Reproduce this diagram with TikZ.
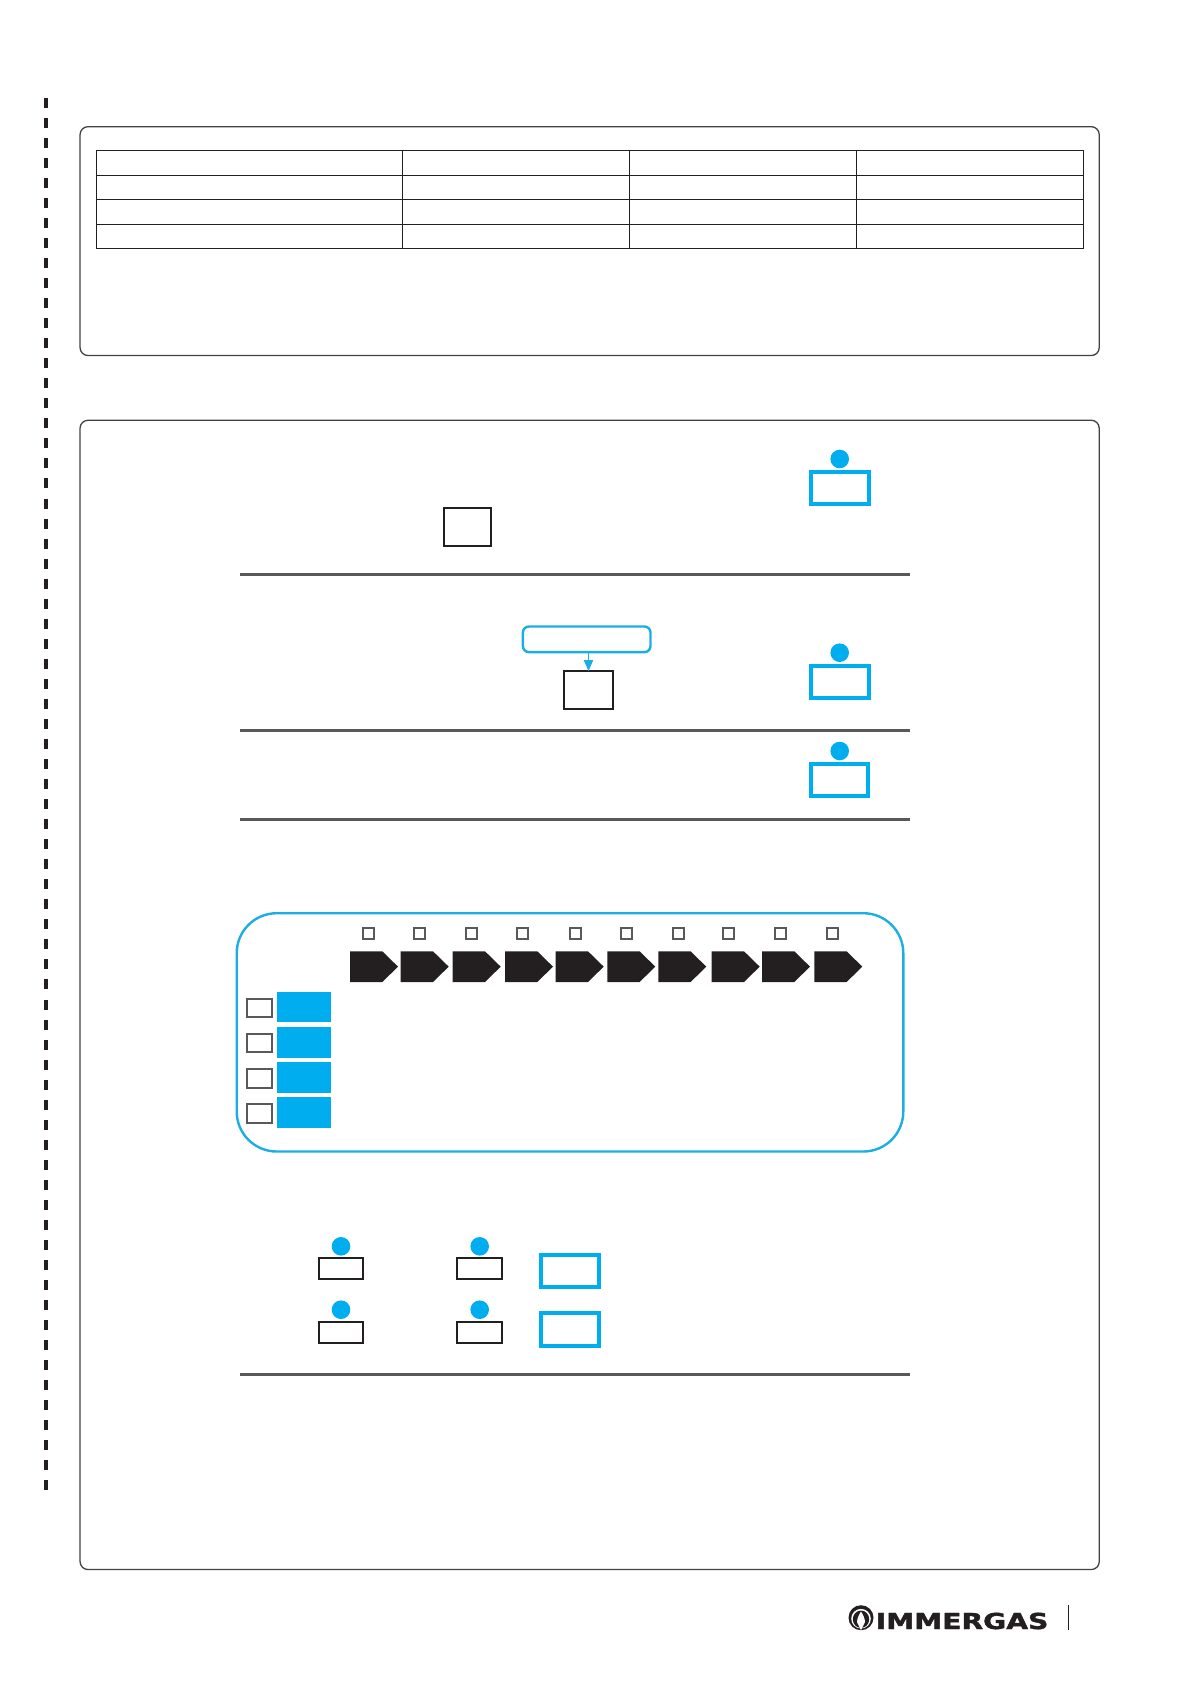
\documentclass[tikz,border=0pt]{standalone}
\usepackage{fontspec}
\setmainfont{DejaVu Sans}
\newfontfamily\brandfont{DejaVu Sans}[BoldFeatures={FakeBold=1.6}]
\usetikzlibrary{arrows.meta}
\definecolor{imblue}{HTML}{00AEEF}
\definecolor{imline}{HTML}{1CADE4}
\definecolor{imdark}{HTML}{231F20}
\definecolor{imgrey}{HTML}{58595B}
\tikzset{
  x=1pt,y=-1pt,
  box/.style={rectangle,inner sep=0pt,outer sep=0pt},
  frame/.style={box,draw=imdark!85!white,line width=1.3pt,rounded corners=8pt},
  bluebox/.style={box,draw=imblue,line width=4pt},
  blackbox/.style={box,draw=imdark,line width=2.4pt},
  smallbox/.style={box,draw=imdark,line width=2pt},
  greybox/.style={box,draw=imgrey,line width=2pt},
  solidblue/.style={box,fill=imblue},
  dotmark/.style={circle,fill=imblue,inner sep=0pt,outer sep=0pt,minimum size=18.6pt},
  rule/.style={draw=imgrey,line width=3pt},
  tabline/.style={draw=imdark,line width=1.2pt},
  penta/.style={fill=imdark},
}
% name, style, line width, x0, y0, x1, y1 (outer bounds)
\newcommand{\rnode}[7]{\node[#2,minimum width={(#6-#4-#3)*1pt},minimum height={(#7-#5-#3)*1pt}] (#1) at ({(#4+#6)/2},{(#5+#7)/2}) {};}
\begin{document}
\begin{tikzpicture}
\useasboundingbox (0,0) rectangle (1191,1684);
% margin dashed line
\coordinate (dashA) at (46,97.7);
\coordinate (dashB) at (46,1490.7);
\draw[imdark,line width=4pt,dash pattern=on 10pt off 10.04pt] (dashA) -- (dashB);
% frames
\rnode{frameA}{frame}{1.3}{79.4}{126}{1099.9}{356.2}
\rnode{frameB}{frame}{1.3}{79.4}{419.6}{1099.9}{1570.2}
% table
\draw[tabline] (96.3,150.3) rectangle (1083.5,248.3);
\foreach \yy in {175.3,199.3,224.3} \draw[tabline] (96.3,\yy) -- (1083.5,\yy);
\foreach \xx in {402.3,629.4,856.5} \draw[tabline] (\xx,150.3) -- (\xx,248.3);
% rules
\foreach \yy/\nm in {574.3/a,730.3/b,819.3/c,1374.3/d}{
  \coordinate (rule\nm L) at (240,\yy);
  \coordinate (rule\nm R) at (910,\yy);
  \draw[rule] (rule\nm L) -- (rule\nm R);
}
% blue boxes with dots
\rnode{blueA}{bluebox}{4}{809}{470}{871}{506}
\node[dotmark] (dotA) at (839.7,459) {};
\rnode{blueB}{bluebox}{4}{809}{664}{871}{700}
\node[dotmark] (dotB) at (839.7,652.7) {};
\rnode{blueC}{bluebox}{4}{809}{762}{870}{798}
\node[dotmark] (dotC) at (839.7,751) {};
% black boxes
\rnode{blackA}{blackbox}{2.4}{443}{507}{492}{547}
\rnode{blackB}{blackbox}{2.4}{563}{670}{614}{710}
% callout
\rnode{callout}{box,draw=imline,line width=2.4pt,rounded corners=6pt}{2.4}{521.7}{625.3}{651.7}{653.3}
\draw[imline,line width=1.6pt,-{Triangle[length=11pt,width=9pt]}] (blackB.north |- callout.south) -- (blackB.north);
% blue panel
\rnode{panel}{box,draw=imline,line width=2.4pt,rounded corners=40pt}{2.4}{235.5}{912}{904.5}{1152.7}
% small squares
\foreach \xx [count=\i] in {368.3,419.7,471,522.3,575,626.7,678,728.3,780,832.7}
  \node[greybox,minimum size=11pt] (sq\i) at (\xx,933) {};
% pentagons
\foreach \xx in {350,400.7,452.7,505,555.7,607.3,658.3,711.7,762,814.3}
  \fill[penta] (\xx,951.3) -- ++(32.3,0) -- ++(15.7,15.35) -- ++(-15.7,15.35) -- ++(-32.3,0) -- cycle;
% left column
\rnode{solA}{solidblue}{0}{277}{992}{331}{1022}
\rnode{solB}{solidblue}{0}{277}{1027}{331}{1058}
\rnode{solC}{solidblue}{0}{277}{1062}{331}{1093}
\rnode{solD}{solidblue}{0}{277}{1097}{331}{1128}
\rnode{grA}{greybox}{2}{246}{998}{273.3}{1018}
\rnode{grB}{greybox}{2}{246}{1033}{273.3}{1053}
\rnode{grC}{greybox}{2}{246}{1068}{273.3}{1089}
\rnode{grD}{greybox}{2}{246}{1103}{273.3}{1124}
% lower group
\rnode{smA}{smallbox}{2}{318}{1257}{364}{1280}
\rnode{smB}{smallbox}{2}{456}{1257}{503}{1280}
\rnode{smC}{smallbox}{2}{318}{1321}{364}{1344}
\rnode{smD}{smallbox}{2}{456}{1321}{503}{1344}
\node[dotmark] (dotD) at (341,1246.3) {};
\node[dotmark] (dotE) at (479.7,1246.3) {};
\node[dotmark] (dotF) at (341,1309.7) {};
\node[dotmark] (dotG) at (479.7,1309.7) {};
\rnode{blueD}{bluebox}{4}{539}{1253}{601}{1289}
\rnode{blueE}{bluebox}{4}{539}{1311}{601}{1348}
% logo
\fill[imdark] (861,1617.7) circle[radius=12.5];
\fill[white] (861,1618.7) circle[radius=9.8];
\fill[imdark] (861,1619.2) ellipse[x radius=8.2,y radius=8.7];
\fill[white] (861,1630.2) -- (857,1622) .. controls (857,1618) and (859.5,1614) .. (861,1611.5) .. controls (862.5,1614) and (865,1618) .. (865,1622) -- cycle;
\node[inner sep=0pt,anchor=base west,font=\brandfont\bfseries\fontsize{22}{24}\selectfont,text=imdark,xscale=1.28] (brand) at (875.5,1629) {IMMERGAS};
\draw[imdark,line width=1pt] (1068.7,1605) -- (1068.7,1630);
\end{tikzpicture}
\end{document}
